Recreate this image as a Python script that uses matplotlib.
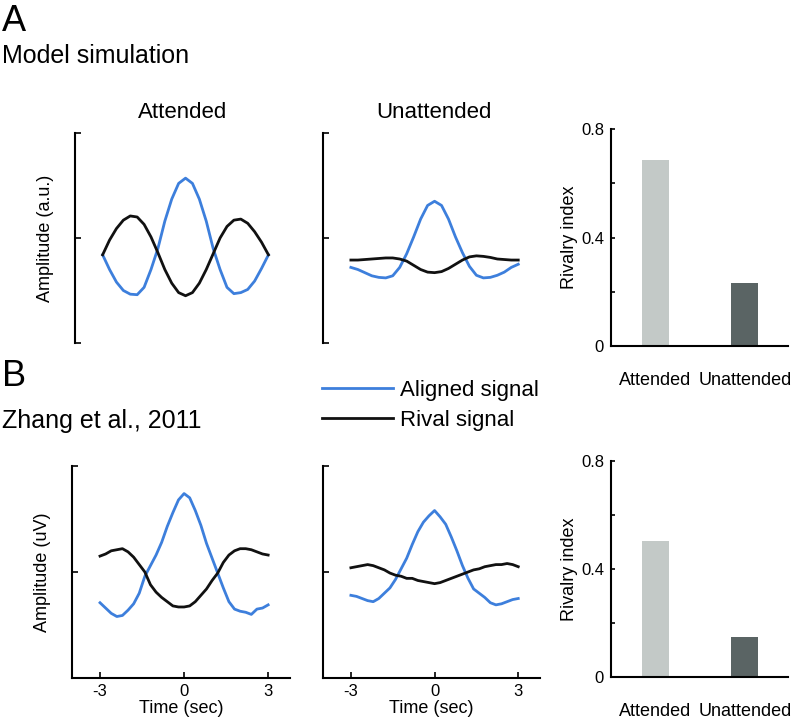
import matplotlib
matplotlib.use("Agg")
import matplotlib.pyplot as plt
import numpy as np

plt.rcParams['font.family'] = ['Liberation Sans', 'DejaVu Sans']
plt.rcParams['axes.unicode_minus'] = False

BLUE = '#3d7fdc'
BLACK = '#111111'
LIGHT = '#c3c9c7'
DARK = '#5a6464'

# model simulation (A), sampled every 0.25 s
t_model = np.linspace(-3, 3, 25)
model_att_aligned = [0.84, 0.70, 0.58, 0.50, 0.465, 0.46, 0.53, 0.70, 0.90, 1.16, 1.37, 1.52, 1.57,
                     1.52, 1.37, 1.16, 0.90, 0.70, 0.53, 0.47, 0.48, 0.51, 0.59, 0.71, 0.84]
model_att_rival = [0.84, 0.98, 1.09, 1.17, 1.21, 1.20, 1.13, 1.01, 0.86, 0.70, 0.57, 0.48, 0.45,
                   0.48, 0.57, 0.70, 0.85, 1.00, 1.11, 1.17, 1.18, 1.14, 1.06, 0.96, 0.84]
model_unatt_aligned = [0.72, 0.70, 0.67, 0.64, 0.625, 0.62, 0.64, 0.72, 0.85, 1.01, 1.18, 1.31, 1.35,
                       1.31, 1.18, 1.01, 0.86, 0.73, 0.645, 0.62, 0.625, 0.645, 0.675, 0.72, 0.75]
model_unatt_rival = [0.79, 0.79, 0.795, 0.80, 0.805, 0.81, 0.81, 0.80, 0.78, 0.74, 0.70, 0.675, 0.67,
                     0.68, 0.71, 0.75, 0.79, 0.82, 0.83, 0.825, 0.815, 0.80, 0.795, 0.79, 0.79]

# Zhang et al., 2011 (B), sampled every 0.2 s
t_data = np.linspace(-3, 3, 31)
data_att_aligned = [0.71, 0.66, 0.61, 0.58, 0.59, 0.64, 0.70, 0.80, 0.96, 1.06, 1.16, 1.28, 1.43, 1.56, 1.68, 1.74,
                    1.70, 1.58, 1.44, 1.27, 1.13, 0.99, 0.85, 0.72, 0.65, 0.63, 0.62, 0.60, 0.65, 0.66, 0.69]
data_att_rival = [1.15, 1.17, 1.20, 1.21, 1.22, 1.19, 1.14, 1.07, 1.00, 0.88, 0.81, 0.76, 0.72, 0.68, 0.67, 0.67,
                  0.68, 0.72, 0.78, 0.84, 0.92, 0.99, 1.09, 1.16, 1.20, 1.22, 1.22, 1.21, 1.19, 1.17, 1.16]
data_unatt_aligned = [0.78, 0.77, 0.75, 0.73, 0.72, 0.75, 0.80, 0.85, 0.93, 1.03, 1.13, 1.26, 1.38, 1.47, 1.53, 1.58,
                      1.52, 1.45, 1.33, 1.20, 1.06, 0.94, 0.84, 0.80, 0.76, 0.71, 0.69, 0.70, 0.72, 0.74, 0.75]
data_unatt_rival = [1.04, 1.05, 1.06, 1.07, 1.06, 1.04, 1.02, 0.99, 0.97, 0.96, 0.94, 0.94, 0.92, 0.91, 0.90, 0.89,
                    0.90, 0.92, 0.94, 0.96, 0.98, 1.00, 1.02, 1.03, 1.05, 1.06, 1.07, 1.07, 1.08, 1.07, 1.05]

conditions = ['Attended', 'Unattended']
rivalry_model = [0.686, 0.232]
rivalry_data = [0.504, 0.148]

W, H = 793, 722
fig = plt.figure(figsize=(W / 100, H / 100), dpi=100)


def px_axes(left, right, top, bottom):
    return fig.add_axes([left / W, 1 - bottom / H, (right - left) / W, (bottom - top) / H])


def line_panel(ax, t, aligned, rival, bottom_axis):
    la, = ax.plot(t, aligned, color=BLUE, lw=2.0)
    lr, = ax.plot(t, rival, color=BLACK, lw=2.0)
    ax.set_xlim(-4.0, 3.78)
    ax.set_ylim(0, 2)
    ax.set_yticks([0, 1, 2])
    ax.set_yticklabels([])
    for s in ['top', 'right']:
        ax.spines[s].set_visible(False)
    ax.spines['left'].set_linewidth(1.5)
    ax.spines['bottom'].set_linewidth(1.5)
    ax.tick_params(direction='in', length=4, width=1.2, labelsize=12, pad=4)
    if bottom_axis:
        ax.set_xticks([-3, 0, 3])
        ax.set_xticklabels(['-3', '0', '3'])
        ax.set_xlabel('Time (sec)', fontsize=13, labelpad=1)
    else:
        ax.spines['bottom'].set_visible(False)
        ax.set_xticks([])
    return la, lr


def bar_panel(ax, values):
    ax.bar([1, 2], values, width=0.3, color=[LIGHT, DARK])
    ax.set_xlim(0.51, 2.48)
    ax.set_ylim(0, 0.8)
    ax.set_yticks([0, 0.2, 0.4, 0.6, 0.8])
    ax.set_yticklabels(['0', '', '0.4', '', '0.8'])
    ax.set_xticks([1, 2])
    ax.set_xticklabels(conditions, fontsize=13)
    for s in ['top', 'right']:
        ax.spines[s].set_visible(False)
    ax.spines['left'].set_linewidth(1.5)
    ax.spines['bottom'].set_linewidth(1.5)
    ax.tick_params(axis='y', direction='in', length=3, width=1.2, labelsize=12, pad=5)
    ax.tick_params(axis='x', length=0, pad=19)
    ax.set_ylabel('Rivalry index', fontsize=13, labelpad=2)


# row A
ax1 = px_axes(75, 290, 133, 343)
la, lr = line_panel(ax1, t_model, model_att_aligned, model_att_rival, False)
ax1.set_ylabel('Amplitude (a.u.)', fontsize=13, labelpad=11)
ax2 = px_axes(323, 540, 133, 343)
line_panel(ax2, t_model, model_unatt_aligned, model_unatt_rival, False)
ax3 = px_axes(611, 788, 129, 346)
bar_panel(ax3, rivalry_model)

# row B
ax4 = px_axes(72, 290, 466, 678)
line_panel(ax4, t_data, data_att_aligned, data_att_rival, True)
ax4.set_ylabel('Amplitude (uV)', fontsize=13, labelpad=11)
ax5 = px_axes(323, 540, 466, 678)
line_panel(ax5, t_data, data_unatt_aligned, data_unatt_rival, True)
ax6 = px_axes(611, 788, 461, 677)
bar_panel(ax6, rivalry_data)

# column titles
fig.text(183 / W, 1 - 118 / H, 'Attended', fontsize=16, ha='center', va='baseline')
fig.text(434 / W, 1 - 118 / H, 'Unattended', fontsize=16, ha='center', va='baseline')

# panel letters and captions
fig.text(2 / W, 1 - 31 / H, 'A', fontsize=26, va='baseline')
fig.text(2 / W, 1 - 63 / H, 'Model simulation', fontsize=18, va='baseline')
fig.text(2 / W, 1 - 386 / H, 'B', fontsize=26, va='baseline')
fig.text(2 / W, 1 - 428 / H, 'Zhang et al., 2011', fontsize=18, va='baseline')

fig.legend([la, lr], ['Aligned signal', 'Rival signal'], loc='upper left',
           bbox_to_anchor=(322 / W, 1 - 380 / H), frameon=False, fontsize=16,
           handlelength=3.2, handletextpad=0.3, labelspacing=0.4, borderpad=0,
           borderaxespad=0)

fig.savefig('out.png', dpi=100)
